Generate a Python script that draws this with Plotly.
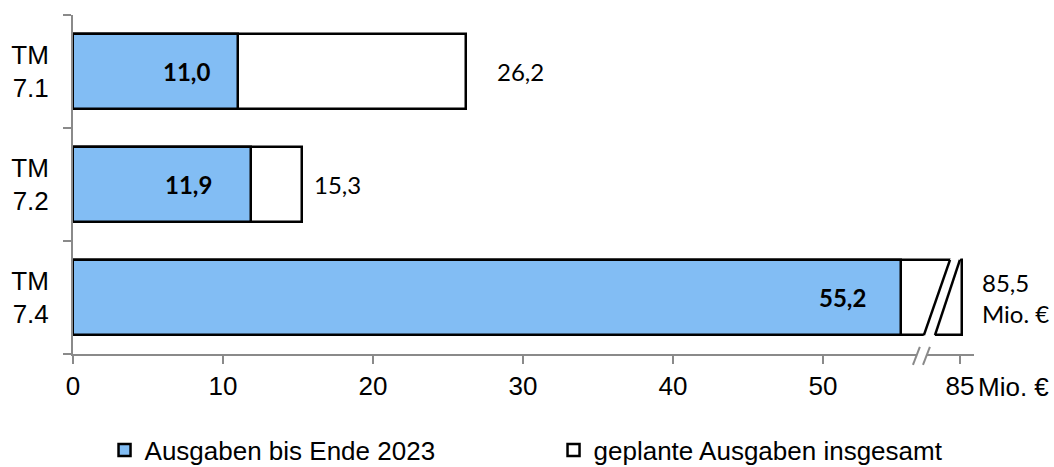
import plotly.graph_objects as go

# --- data -------------------------------------------------------------
categories = ["TM<br>7.1", "TM<br>7.2", "TM<br>7.4"]
spent_2023 = [11.0, 11.9, 55.2]          # Ausgaben bis Ende 2023 (Mio. €)
planned_total = [26.2, 15.3, 85.5]       # geplante Ausgaben insgesamt (Mio. €)
x_ticks = [0, 10, 20, 30, 40, 50, 85]
x_tick_text = ["0", "10", "20", "30", "40", "50", "85"]

# --- broken x axis: values above the break are drawn compressed --------
BREAK_FROM = 57.0     # values below this are drawn unchanged
HI_START = 85.0       # first value shown after the break
HI_POS = 59.13        # axis position where 85 is drawn
HI_SCALE = 0.23       # axis units per value unit after the break


def axis_pos(v):
    return v if v < BREAK_FROM else HI_POS + (v - HI_START) * HI_SCALE


def fmt(v):
    return f"{v:.1f}".replace(".", ",")


BLUE = "#82BDF4"
AXIS_GREY = "#8a8a8a"
ARIAL = "Liberation Sans, Arial, sans-serif"
LABEL_FONT = "Lato, Carlito, Calibri, sans-serif"
BAR_W = 0.665
X_MAX = 60.07

y_pos = list(range(len(categories)))

fig = go.Figure()
fig.add_trace(go.Bar(
    name="geplante Ausgaben insgesamt",
    x=[axis_pos(v) for v in planned_total], y=y_pos, orientation="h",
    width=BAR_W, marker=dict(color="white", line=dict(color="black", width=2.5)),
    legendrank=2, hoverinfo="skip",
))
fig.add_trace(go.Bar(
    name="Ausgaben bis Ende 2023",
    x=[axis_pos(v) for v in spent_2023], y=y_pos, orientation="h",
    width=BAR_W, marker=dict(color=BLUE, line=dict(color="black", width=2.5)),
    legendrank=1, hoverinfo="skip",
))

# value labels: spent (bold, inside) and planned totals (outside)
inside_shift = [-26, -37, -33]
outside_shift = [29, 10, 18]
for i, (s, t) in enumerate(zip(spent_2023, planned_total)):
    fig.add_annotation(
        x=axis_pos(s), y=y_pos[i], text=f"<b>{fmt(s)}</b>", showarrow=False,
        xanchor="right", yanchor="middle", xshift=inside_shift[i],
        font=dict(family=LABEL_FONT, size=24, color="black"),
    )
    txt = fmt(t) + ("<br>Mio. €" if t >= BREAK_FROM else "")
    fig.add_annotation(
        x=axis_pos(t), y=y_pos[i], text=txt, showarrow=False, align="left",
        xanchor="left", yanchor="middle", xshift=outside_shift[i],
        font=dict(family=LABEL_FONT, size=24, color="black"),
    )

# unit next to the last tick label
fig.add_annotation(
    x=axis_pos(85), xref="x", y=-0.098, yref="paper", text="Mio. €",
    showarrow=False, xanchor="left", yanchor="middle", xshift=16,
    font=dict(family=ARIAL, size=26, color="black"),
)

# break in the long bar
i_long = planned_total.index(max(planned_total))
yc = y_pos[i_long]
y_top, y_bot = yc - BAR_W / 2, yc + BAR_W / 2
cut1 = (56.73, 58.47)   # (bottom, top) x of first cut line
cut2 = (57.47, 59.13)   # (bottom, top) x of second cut line
ext = 0.03


def along(cut, y):
    # x on a cut line at height y (linear between bar bottom and top)
    f = (y_bot - y) / (y_bot - y_top)
    return cut[0] + (cut[1] - cut[0]) * f


ya, yb = y_top - ext, y_bot + ext
gap_path = (f"M{along(cut1, yb)},{yb} L{along(cut1, ya)},{ya} "
            f"L{along(cut2, ya)},{ya} L{along(cut2, yb)},{yb} Z")
fig.add_shape(type="path", path=gap_path, xref="x", yref="y",
              fillcolor="white", line=dict(width=0), layer="above")
for cut in (cut1, cut2):
    fig.add_shape(type="line", xref="x", yref="y",
                  x0=cut[0], y0=y_bot, x1=cut[1], y1=y_top,
                  line=dict(color="black", width=2.5), layer="above")

# break marks on the x axis
m1, m2 = 56.23, 56.90
mdx = 0.23
fig.add_shape(type="path", xref="x", yref="paper",
              path=(f"M{m1 - 0.02},-0.007 L{m1 + 0.02},0.007 "
                    f"L{m2 + 0.02},0.007 L{m2 - 0.02},-0.007 Z"),
              fillcolor="white", line=dict(width=0), layer="above")
for m in (m1, m2):
    fig.add_shape(type="line", xref="x", yref="paper",
                  x0=m - mdx, y0=-0.032, x1=m + mdx, y1=0.021,
                  line=dict(color=AXIS_GREY, width=2), layer="above")

fig.update_layout(
    width=1054, height=467,
    margin=dict(l=73, r=80, t=15, b=113, autoexpand=False),
    paper_bgcolor="white", plot_bgcolor="white",
    barmode="overlay", bargap=0,
    font=dict(family=ARIAL, size=26, color="black"),
    showlegend=True,
    legend=dict(
        orientation="h", x=0.035, xanchor="left",
        y=0.036, yref="container", yanchor="middle",
        entrywidth=404, font=dict(family=ARIAL, size=26, color="black"),
        itemclick=False, itemdoubleclick=False,
    ),
)
fig.update_xaxes(
    range=[0, X_MAX], tickmode="array",
    tickvals=[axis_pos(v) for v in x_ticks], ticktext=x_tick_text,
    showline=True, linecolor=AXIS_GREY, linewidth=2,
    ticks="outside", ticklen=8, tickwidth=2, tickcolor=AXIS_GREY,
    showgrid=False, zeroline=False, automargin=False,
    tickfont=dict(family=ARIAL, size=26, color="black"),
    fixedrange=True,
)
fig.update_yaxes(
    range=[len(categories) - 0.5, -0.5], tickmode="array",
    tickvals=y_pos, ticktext=categories, ticks="",
    ticklabelstandoff=17,
    minor=dict(tickmode="array",
               tickvals=[p - 0.5 for p in y_pos] + [y_pos[-1] + 0.5],
               ticks="outside", ticklen=8, tickwidth=2, tickcolor=AXIS_GREY),
    showline=True, linecolor=AXIS_GREY, linewidth=2,
    showgrid=False, zeroline=False, automargin=False,
    tickfont=dict(family=ARIAL, size=26, color="black"),
    fixedrange=True,
)

fig.write_html("out.html", config={"displayModeBar": False})
